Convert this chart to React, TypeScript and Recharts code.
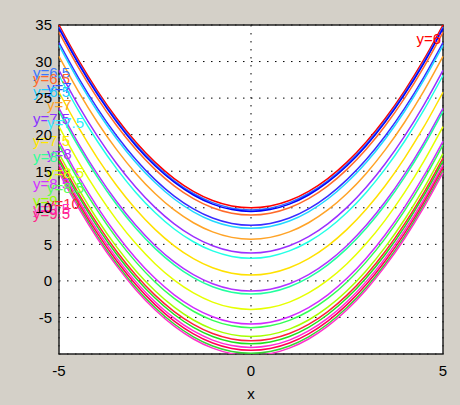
import React from 'react';
import { LineChart, Line, XAxis, YAxis, CartesianGrid, ReferenceArea, ReferenceDot, Label } from 'recharts';

// sample positions along x and the parabola shape (height above its minimum)
const xs = [-5, -4.5, -4, -3.5, -3, -2.5, -2, -1.5, -1, -0.5, 0, 0.5, 1, 1.5, 2, 2.5, 3, 3.5, 4, 4.5, 5];
const shape = [25, 20.25, 16, 12.25, 9, 6.25, 4, 2.25, 1, 0.25, 0, 0.25, 1, 2.25, 4, 6.25, 9, 12.25, 16, 20.25, 25];

// minimum of each curve at x = 0, top to bottom
const minima = [10, 9.7, 9.5, 9.0, 7.6, 7.2, 5.7, 3.8, 3.1, 0.8, -1.4, -1.8, -3.9, -5.9, -6.4, -7.6, -8.2, -8.6, -9.1, -9.5, -9.9, -10.2];
const colors = [
  '#ff0000', '#2f6bff', '#0000ff', '#ff6a2a', '#3a2cff', '#22d8ff', '#ffa326', '#9b30ff', '#22ffe6',
  '#ffe100', '#b233ff', '#22ff9e', '#e6ff00', '#d12bff', '#33ff55', '#a6ff00', '#ff1f3d', '#1fe01f',
  '#ff2bd6', '#ff0055', '#33d633', '#ff33cc',
];

// curve labels drawn on the left edge: text, colour, y value
const labelTexts = ['y=6.5', 'y=6.5', 'y=7', 'y=6.5', 'y=7', 'y=7.5', 'y=7.5', 'y=7.5', 'y=8', 'y=8', 'y=8.5', 'y=8.5', 'y=8.5', 'y=9', 'y=10', 'y=9.5', 'y=9.5'];
const labelColors = ['#3a78ff', '#ff6a2a', '#2a55ff', '#22ccff', '#ffa326', '#8a33ff', '#33eeff', '#ffe600', '#a833ff', '#33ff99', '#e6ff00', '#d133ff', '#55ff55', '#99ff00', '#ff1f3d', '#ff33cc', '#ff1f88'];
const labelValues = [28.4, 27.6, 26.4, 25.9, 24.0, 22.2, 21.6, 19.1, 17.3, 17.0, 14.7, 13.2, 12.7, 10.9, 10.5, 9.8, 9.2];
const labelIndent = [0, 0, 1, 0, 1, 0, 1, 0, 1, 0, 1, 0, 1, 0, 1, 0, 0];

const topLabel = 'y=6';
const topLabelValue = 33.15;

const yTicks = [-5, 0, 5, 10, 15, 20, 25, 30, 35];
const xTicks = [-5, 0, 5];

const data = xs.map((x, i) => {
  const row: Record<string, number> = { x };
  minima.forEach((m, k) => {
    row['c' + k] = shape[i] + m;
  });
  return row;
});

const font = '"Liberation Sans", Arial, sans-serif';

export default function App() {
  return (
    <div style={{ position: 'absolute', left: 0, top: 0, width: 460, height: 405, background: '#d4d0c8' }}>
      <LineChart width={460} height={405} data={data} margin={{ top: 25, right: 17, left: 0, bottom: 0 }}>
        <CartesianGrid stroke="#000" strokeDasharray="1.5 6.5" fill="#fff" />
        <XAxis
          dataKey="x"
          type="number"
          domain={[-5, 5]}
          ticks={xTicks}
          height={51}
          axisLine={false}
          tickLine={false}
          tickSize={0}
          tickMargin={11}
          tick={{ fill: '#000', fontSize: 15, fontFamily: font }}
        >
          <Label value="x" position="insideBottom" offset={6} style={{ fill: '#000', fontSize: 15, fontFamily: font }} />
        </XAxis>
        <YAxis
          type="number"
          domain={[-10, 35]}
          allowDataOverflow
          ticks={yTicks}
          width={59}
          axisLine={false}
          tickLine={false}
          tickSize={0}
          tickMargin={7}
          tick={{ fill: '#000', fontSize: 15, fontFamily: font }}
        />
        {minima.map((_, k) => (
          <Line
            key={k}
            dataKey={'c' + k}
            type="monotone"
            stroke={colors[k]}
            strokeWidth={1.5}
            dot={false}
            isAnimationActive={false}
          />
        ))}
        {labelTexts.map((t, i) => (
          <ReferenceDot key={'l' + i} x={-5} y={labelValues[i]} r={0} stroke="none" fill="none" ifOverflow="visible">
            <Label
              content={(p: any) => (
                <text
                  x={p.viewBox.x - 26 + labelIndent[i] * 14}
                  y={p.viewBox.y + 5}
                  fill={labelColors[i]}
                  fontSize={15}
                  fontFamily={font}
                >
                  {t}
                </text>
              )}
            />
          </ReferenceDot>
        ))}
        <ReferenceDot x={5} y={topLabelValue} r={0} stroke="none" fill="none" ifOverflow="visible">
          <Label
            content={(p: any) => (
              <text x={p.viewBox.x - 2} y={p.viewBox.y + 5} textAnchor="end" fill="#ff0000" fontSize={15} fontFamily={font}>
                {topLabel}
              </text>
            )}
          />
        </ReferenceDot>
        <ReferenceArea x1={-5} x2={5} y1={-10} y2={35} fill="none" stroke="#222" strokeWidth={1.5} ifOverflow="visible" />
      </LineChart>
    </div>
  );
}
